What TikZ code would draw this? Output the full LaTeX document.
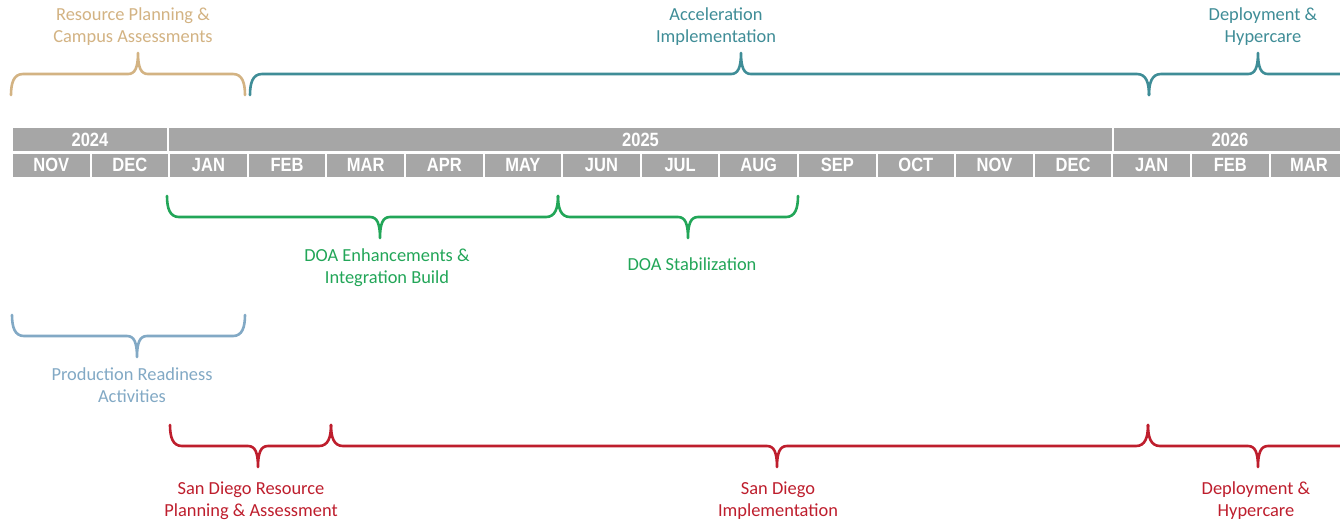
\documentclass[tikz,border=0pt]{standalone}
\usepackage{fontspec}
\setmainfont{Carlito}
\newfontfamily\barfont[FakeStretch=0.86]{Liberation Sans}
\usepackage{tikz}
\usetikzlibrary{positioning}
\usepackage{xcolor}

\definecolor{bargrey}{HTML}{A6A6A6}
\definecolor{phtan}{HTML}{D3B383}
\definecolor{phteal}{HTML}{3F8D97}
\definecolor{phgreen}{HTML}{22A658}
\definecolor{phblue}{HTML}{82A9C5}
\definecolor{phred}{HTML}{BE1E2D}

\tikzset{
  cell/.style={rectangle, fill=bargrey, draw=white, line width=1pt, text=white,
    minimum height=12.5pt, inner sep=0pt, font=\barfont\bfseries\fontsize{9.6}{10}\selectfont},
  month/.style={cell, minimum width=39.3pt},
  lbl/.style={align=center, inner sep=0pt, font=\fontsize{9.2}{11}\selectfont},
  brace/.style={line width=1.3pt, line cap=round, line join=round}
}

% colour, left x, right x, tip x, end y, half height
\newcommand{\phasebrace}[6]{%
  \draw[brace, #1] (#2,#5) .. controls (#2,{#5+0.6*#6}) and ({#2+3},{#5+#6}) .. ({#2+12},{#5+#6})
    -- ({#4-10},{#5+#6}) .. controls ({#4-3},{#5+#6}) and (#4,{#5+1.3*#6}) .. (#4,{#5+2*#6})
    .. controls (#4,{#5+1.3*#6}) and ({#4+3},{#5+#6}) .. ({#4+10},{#5+#6})
    -- ({#3-12},{#5+#6}) .. controls ({#3-3},{#5+#6}) and (#3,{#5+0.6*#6}) .. (#3,#5);}

\begin{document}
\begin{tikzpicture}[x=0.5pt, y=-0.5pt]
  \fill[white] (0,0) rectangle (1340,521);
  \clip (0,0) rectangle (1340,521);

  % years
  \node[cell, minimum width=78pt]    (y2024) at (90,139.5)    {2024};
  \node[cell, minimum width=472.5pt] (y2025) at (640.5,139.5) {2025};
  \node[cell, minimum width=117.5pt] (y2026) at (1230,139.5)  {2026};

  % months
  \foreach \m [count=\i from 0] in {NOV,DEC,JAN,FEB,MAR,APR,MAY,JUN,JUL,AUG,SEP,OCT,NOV,DEC,JAN,FEB,MAR}
    \node[month] (m\i) at ({12+78.6*(\i+0.5)},165) {\m};

  % top phases
  \phasebrace{phtan}{11}{245}{138}{95}{-21}
  \phasebrace{phteal}{250}{1149}{741}{95}{-21}
  \phasebrace{phteal}{1149}{1367}{1258}{95}{-21}
  \node[lbl, text=phtan]  (resplan) at (133,27)  {Resource Planning \&\\Campus Assessments};
  \node[lbl, text=phteal] (accel)   at (716,27)  {Acceleration\\Implementation};
  \node[lbl, text=phteal] (deptop)  at (1263,27) {Deployment \&\\Hypercare};

  % DOA
  \phasebrace{phgreen}{167}{558}{380}{196}{21}
  \phasebrace{phgreen}{558}{798}{688}{196}{21}
  \node[lbl, text=phgreen] (doaenh)  at (387,268) {DOA Enhancements \&\\Integration Build};
  \node[lbl, text=phgreen] (doastab) at (692,264) {DOA Stabilization};

  % readiness
  \phasebrace{phblue}{12}{245}{137}{315}{21}
  \node[lbl, text=phblue] (prodready) at (132,385) {Production Readiness\\Activities};

  % San Diego
  \phasebrace{phred}{170}{331}{258}{425}{21}
  \phasebrace{phred}{331}{1148}{777}{425}{21}
  \phasebrace{phred}{1148}{1367}{1258}{425}{21}
  \node[lbl, text=phred] (sdres)  at (251,501)  {San Diego Resource\\Planning \& Assessment};
  \node[lbl, text=phred] (sdimpl) at (778,501)  {San Diego\\Implementation};
  \node[lbl, text=phred] (depbot) at (1256,501) {Deployment \&\\Hypercare};
\end{tikzpicture}
\end{document}
